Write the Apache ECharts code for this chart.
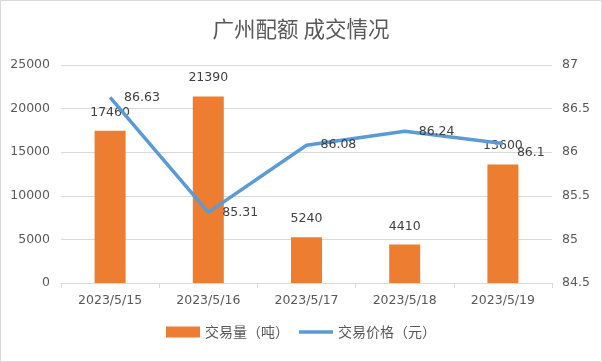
<!DOCTYPE html>
<html><head><meta charset="utf-8">
<script src="https://cdn.jsdelivr.net/npm/echarts@6/dist/echarts.min.js"></script>
<style>html,body{margin:0;padding:0;background:#fff}#c{width:602px;height:362px}</style>
</head><body><div id="c"></div>
<script>
var categories = ['2023/5/15','2023/5/16','2023/5/17','2023/5/18','2023/5/19'];
var volume = [17460, 21390, 5240, 4410, 13600];
var price = [86.63, 85.31, 86.08, 86.24, 86.1];
var volumeName = '交易量（吨）';
var priceName = '交易价格（元）';
var titleText = '广州配额 成交情况';
var FF = '"DejaVu Sans","Noto Sans CJK SC",sans-serif';
var chart = echarts.init(document.getElementById('c'));
var priceData = price.map(function (v, i) {
  return i === price.length - 1 ? {value: v, label: {offset: [0, 9]}} : v;
});
chart.setOption({
  animation: false,
  backgroundColor: '#fff',
  graphic: [{type:'rect', shape:{x:0.5,y:0.5,width:601,height:361}, style:{fill:'none', stroke:'#d9d9d9', lineWidth:1}, silent:true}],
  title: {text: titleText, left: 'center', top: 13, textStyle:{fontSize:21.5, fontWeight:'normal', color:'#595959', fontFamily:'"Noto Sans CJK SC",sans-serif'}},
  grid: {left: 61, right: 50, top: 65, bottom: 79},
  legend: {bottom: 18, left: 'center', itemWidth: 34, itemHeight: 11, itemGap: 10,
    textStyle:{fontSize:14, color:'#595959', fontFamily:'"Noto Sans CJK SC",sans-serif'},
    data:[{name: volumeName, icon:'rect'}, {name: priceName, icon:'path://M0 0H60V6H0Z'}]},
  xAxis: {type:'category', data: categories,
    axisLine:{lineStyle:{color:'#d9d9d9'}},
    axisTick:{show:true, length:5, lineStyle:{color:'#d9d9d9'}},
    axisLabel:{color:'#595959', fontSize:12.5, margin:11, fontFamily:FF}},
  yAxis: [
    {type:'value', min:0, max:25000, interval:5000,
     axisLine:{show:false}, axisTick:{show:false},
     splitLine:{lineStyle:{color:'#d9d9d9'}},
     axisLabel:{color:'#595959', fontSize:12.5, margin:11, fontFamily:FF, formatter: function (v) { return String(v); }}},
    {type:'value', min:84.5, max:87, interval:0.5,
     axisLine:{show:false}, axisTick:{show:false}, splitLine:{show:false},
     axisLabel:{color:'#595959', fontSize:12.5, margin:10, fontFamily:FF}}
  ],
  series: [
    {name: volumeName, type:'bar', data: volume, barWidth: 31, itemStyle:{color:'#ED7D31'},
     label:{show:true, position:'top', distance:12, color:'#404040', fontSize:12.5, fontFamily:FF}},
    {name: priceName, type:'line', yAxisIndex:1, data: priceData, symbol:'circle', symbolSize:0.01, showSymbol:true,
     lineStyle:{color:'#5B9BD5', width:3.5}, itemStyle:{color:'#5B9BD5'},
     label:{show:true, position:'right', distance:14, color:'#404040', fontSize:12.5, fontFamily:FF}}
  ]
});
</script></body></html>
